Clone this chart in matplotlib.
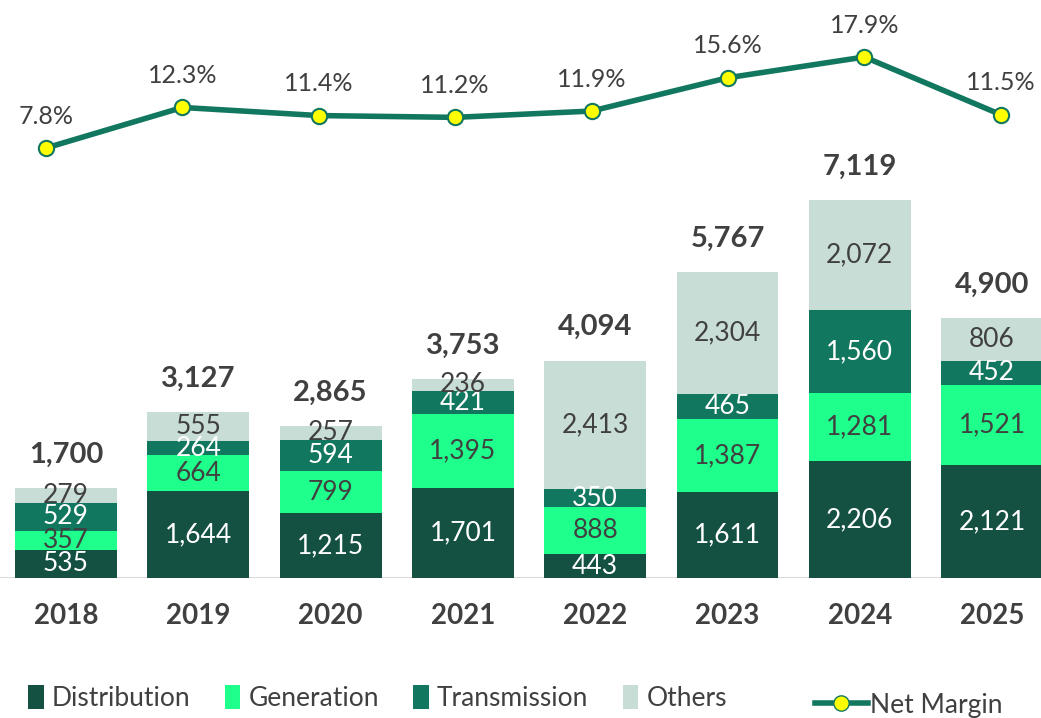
import numpy as np
import matplotlib.pyplot as plt
from matplotlib.patches import Patch
from matplotlib.lines import Line2D

plt.rcParams['font.family'] = ['Lato', 'DejaVu Sans']

# data
years = ['2018', '2019', '2020', '2021', '2022', '2023', '2024', '2025']
distribution = [535, 1644, 1215, 1701, 443, 1611, 2206, 2121]
generation = [357, 664, 799, 1395, 888, 1387, 1281, 1521]
transmission = [529, 264, 594, 421, 350, 465, 1560, 452]
others = [279, 555, 257, 236, 2413, 2304, 2072, 806]
net_margin = [7.8, 12.3, 11.4, 11.2, 11.9, 15.6, 17.9, 11.5]

names = ['Distribution', 'Generation', 'Transmission', 'Others']
colors = ['#145143', '#1eff8c', '#12775f', '#c8ddd6']
txt_colors = ['white', '#404040', 'white', '#404040']
line_col = '#12775f'
dark = '#404040'

W, H = 1041, 718
fig = plt.figure(figsize=(W / 100, H / 100), dpi=100)

# bar axes: baseline at y=578px, full width
base = 578
ax = fig.add_axes([0, 1 - base / H, 1, base / H])
x = np.arange(len(years))
ax.set_xlim(-66 / 132.3, (W - 66) / 132.3)
ax.set_ylim(0, base / 0.0531)

bottom = np.zeros(len(years))
series = [distribution, generation, transmission, others]
for vals, nm, c, tc in zip(series, names, colors, txt_colors):
    vals = np.array(vals)
    ax.bar(x, vals, 0.77, bottom=bottom, color=c, label=nm, zorder=2)
    for xi, b, v in zip(x, bottom, vals):
        ax.text(xi, b + v / 2, f'{v:,}', ha='center', va='center',
                color=tc, fontsize=19, zorder=3)
    bottom = bottom + vals

for xi, t in zip(x, bottom):
    ax.annotate(f'{int(t):,}', (xi, t), xytext=(0, 24), textcoords='offset points',
                ha='center', va='center', fontsize=21, fontweight='bold', color=dark)

ax.axhline(0, color='#d9d9d9', lw=1.5, zorder=1)
ax.set_xticks(x)
ax.set_xticklabels(years, fontsize=20, fontweight='bold', color=dark)
ax.tick_params(axis='x', length=0, pad=18)
ax.set_yticks([])
for s in ax.spines.values():
    s.set_visible(False)
ax.patch.set_alpha(0)

# net margin line on its own axes
ax2 = fig.add_axes([0, 0, 1, 1])
ax2.patch.set_alpha(0)
ax2.set_xlim(-46 / 136.4, (W - 46) / 136.4)
ax2.set_ylim(7.8 - (H - 148) / 9.01, 7.8 + 148 / 9.01)
ax2.plot(x, net_margin, color=line_col, lw=4, marker='o', markersize=11,
         markerfacecolor='#ffff00', markeredgecolor=line_col, markeredgewidth=1.5)
for xi, v in zip(x, net_margin):
    ax2.annotate(f'{v:.1f}%', (xi, v), xytext=(0, 23), textcoords='offset points',
                 ha='center', va='center', fontsize=18, color=dark)
ax2.axis('off')

# legend
handles = [Patch(facecolor=c, edgecolor='none') for c in colors]
fig.legend(handles, names, loc='center left', bbox_to_anchor=(0.004, 0.028),
           ncol=4, frameon=False, fontsize=19, handlelength=0.6, handleheight=1.0,
           handletextpad=0.3, columnspacing=1.3, labelcolor=dark)
mline = Line2D([], [], color=line_col, lw=4, marker='o', markersize=11,
               markerfacecolor='#ffff00', markeredgecolor=line_col)
fig.legend([mline], ['Net Margin'], loc='center left', bbox_to_anchor=(0.76, 0.018),
           frameon=False, fontsize=19, handlelength=2.0, handletextpad=0.1,
           labelcolor=dark)

fig.savefig('out.png', dpi=100)
